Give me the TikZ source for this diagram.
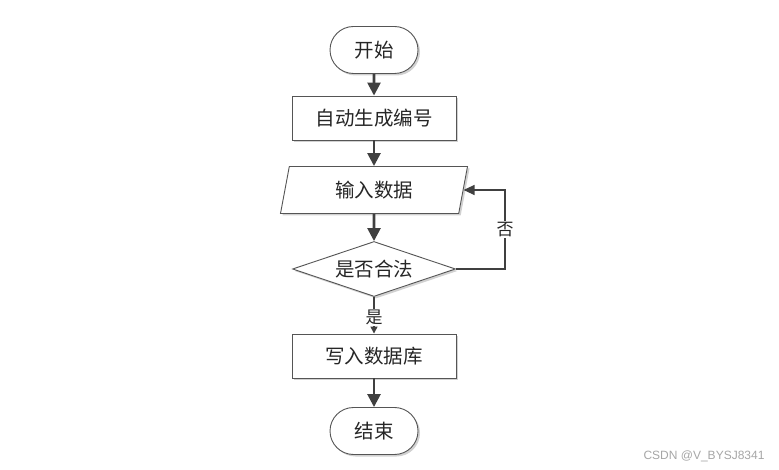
\documentclass[tikz,border=0pt]{standalone}
\usepackage{fontspec}
\newfontfamily\cjk{Noto Sans CJK SC}
\newfontfamily\wmfont{Liberation Sans}
\usetikzlibrary{shapes.geometric,shapes.misc,arrows.meta,shadows}
\definecolor{edgegray}{HTML}{404040}
\definecolor{linegray}{HTML}{555555}
\begin{document}
\begin{tikzpicture}[x=1pt,y=-1pt,
  base/.style={draw=linegray,line width=0.9pt,fill=white,font=\cjk\fontsize{19.5}{21}\selectfont,text=black!85,inner sep=0pt,
    drop shadow={shadow xshift=2pt,shadow yshift=-2pt,opacity=0.18,fill=black}},
  term/.style={base,rounded rectangle,minimum width=88pt,minimum height=47pt},
  procbox/.style={base,rectangle,minimum width=164pt,minimum height=44pt},
  iobox/.style={base,trapezium,trapezium left angle=64,trapezium right angle=116,trapezium stretches body=true,minimum width=187pt,minimum height=47pt},
  decbox/.style={base,diamond,aspect=3,minimum width=163pt,minimum height=55pt},
  flow/.style={draw=edgegray,line width=2.6pt,-{Triangle[length=13pt,width=13pt]}},
  thinflow/.style={draw=edgegray,line width=1.4pt,-{Triangle[length=7pt,width=7pt]}},
  lbl/.style={fill=white,font=\cjk\fontsize{17}{19}\selectfont,text=black!85,inner sep=1pt}
]
\useasboundingbox (0,0) rectangle (779,470);
\node[term] (start) at (374,50) {开始};
\node[procbox] (gen) at (374,118) {自动生成编号};
\node[iobox] (in) at (374,190) {输入数据};
\node[decbox] (dec) at (374,269) {是否合法};
\node[procbox] (write) at (374,356) {写入数据库};
\node[term] (end) at (374,431) {结束};
\draw[flow] (start) -- (gen);
\draw[flow] (gen) -- (in);
\draw[flow] (in) -- (dec);
\draw[thinflow] (dec) -- node[lbl,pos=0.55] (yes) {是} (write);
\draw[flow] (write) -- (end);
\coordinate (turn) at (505,269);
\draw[draw=edgegray,line width=1.2pt,-{Triangle[length=11pt,width=10pt]}] (dec.east) -- (turn) |- node[lbl,pos=0.25] (no) {否} (in.east);
\node[font=\wmfont\fontsize{12}{14}\selectfont,text=black!35,anchor=east] (wm) at (768,456) {CSDN @V\_BYSJ8341};
\end{tikzpicture}
\end{document}
